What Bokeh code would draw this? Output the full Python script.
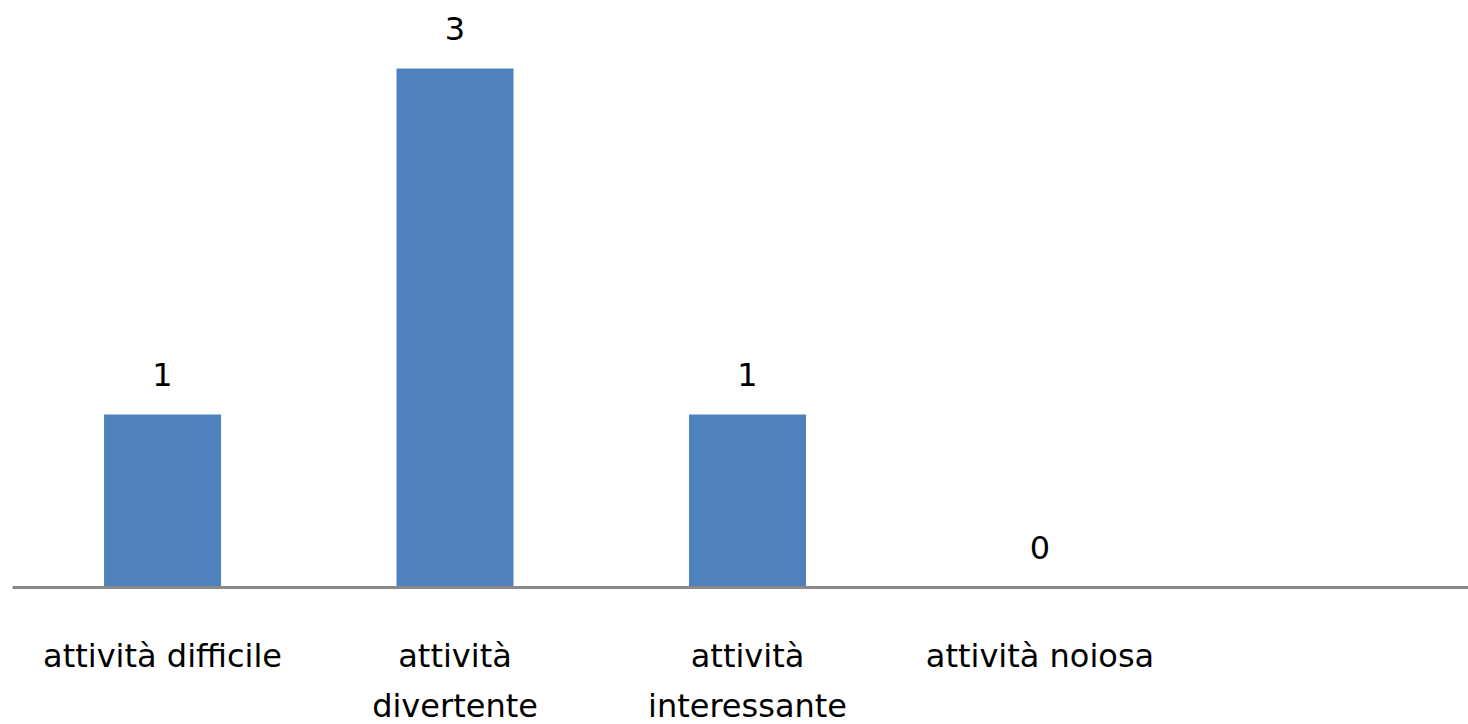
from bokeh.plotting import figure
from bokeh.models import ColumnDataSource, Range1d, FixedTicker
from bokeh.core.properties import value
from bokeh.embed import file_html
from bokeh.resources import INLINE

categories = ["attività difficile", "attività\ndivertente", "attività\ninteressante", "attività noiosa"]
counts = [1, 3, 1, 0]

xs = list(range(len(categories)))
src = ColumnDataSource(data=dict(x=xs, top=counts, label=[str(c) for c in counts]))

p = figure(frame_width=1456, frame_height=579, output_backend="svg", toolbar_location=None,
           x_range=Range1d(-0.513, 4.465), y_range=Range1d(0, 3.347),
           min_border_left=12, min_border_right=0, min_border_top=8, min_border_bottom=0)
p.outline_line_color = None
p.xgrid.visible = False
p.ygrid.visible = False
p.yaxis.visible = False
p.background_fill_color = "white"
p.border_fill_color = "white"

p.vbar(x="x", top="top", bottom=0, width=0.4, source=src, fill_color="#4F81BD", line_color=None)
p.text(x="x", y="top", text="label", source=src, text_align="center", text_baseline="alphabetic",
       y_offset=-40, text_font=value("DejaVu Sans"), text_font_size="32px", text_color="#000000")

ax = p.xaxis[0]
ax.ticker = FixedTicker(ticks=xs)
ax.major_label_overrides = {i: c for i, c in zip(xs, categories)}
ax.axis_line_color = "#898989"
ax.axis_line_width = 3
ax.major_tick_line_color = None
ax.minor_tick_line_color = None
ax.major_label_standoff = 43
ax.major_label_text_font = "DejaVu Sans"
ax.major_label_text_font_size = "32px"
ax.major_label_text_color = "#000000"
ax.major_label_text_line_height = 1.33

open("out.html", "w").write(file_html(p, INLINE))
